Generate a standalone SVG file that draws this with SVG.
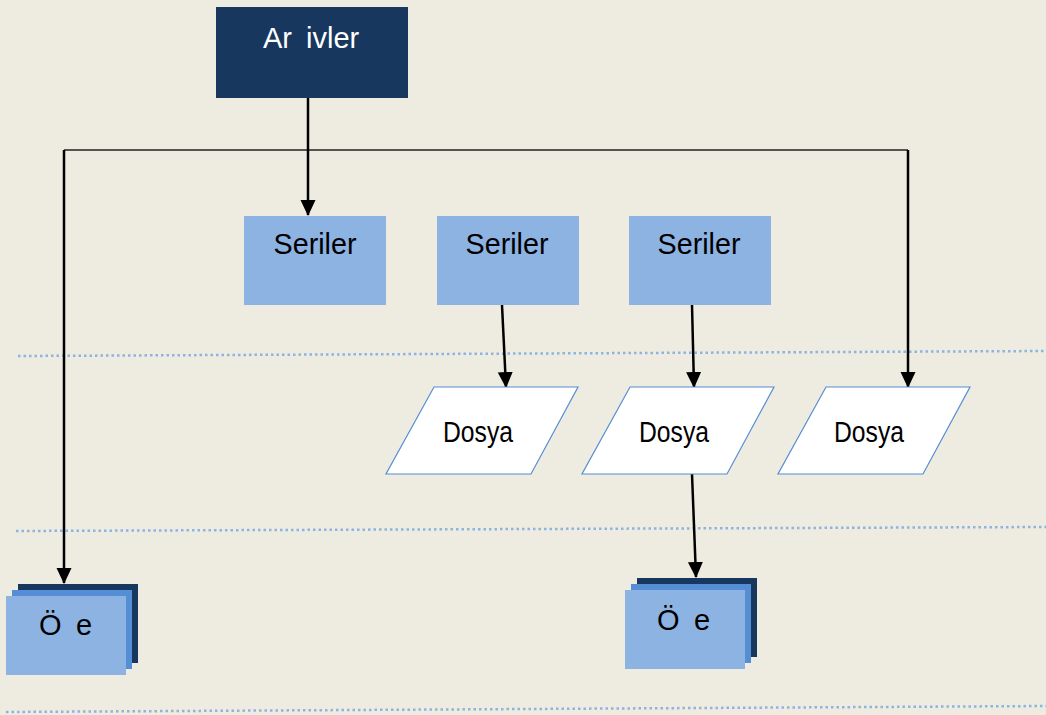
<svg xmlns="http://www.w3.org/2000/svg" width="1046" height="715" viewBox="0 0 1046 715">
<style>
.t{font-family:"Liberation Sans",Arial,sans-serif;font-size:29px;fill:#000}
.c{text-anchor:middle}
.ser{fill:#8DB3E2}
.dos{fill:#fff;stroke:#558ED5;stroke-width:1.2}
.conn{stroke:#000;stroke-width:2.5;fill:none;marker-end:url(#ah)}
.sep{stroke:#8DB3E2;stroke-width:2.5;stroke-dasharray:2.5 3;fill:none}
</style>
<defs>
<marker id="ah" markerUnits="userSpaceOnUse" markerWidth="16" markerHeight="16" viewBox="0 0 16 16" refX="15" refY="8" orient="auto">
<path d="M0,0.5 L16,8 L0,15.5 Z" fill="#000"/>
</marker>
<g id="stack">
<rect x="12" y="-12" width="120" height="79" fill="#17375E"/>
<rect x="6" y="-6" width="120" height="79" fill="#558ED5"/>
<rect x="0" y="0" width="120" height="79" fill="#8DB3E2"/>
</g>
</defs>
<rect width="1046" height="715" fill="#EEEBE0"/>
<g id="separators">
<path class="sep" d="M18,356 L1046,351"/>
<path class="sep" d="M16,531 L1046,527"/>
<path class="sep" d="M6,712 L1046,706"/>
</g>
<g id="connectors">
<path d="M64,150 L908,150" stroke="#222" stroke-width="1.5" fill="none"/>
<path class="conn" d="M308,98 L308,215"/>
<path class="conn" d="M64,150 L64,583"/>
<path class="conn" d="M908,150 L908,387"/>
<path class="conn" d="M502,305 L506,387"/>
<path class="conn" d="M692,305 L694,387"/>
<path class="conn" d="M692,474 L696,577"/>
</g>
<g id="arsivler">
<rect x="216" y="7" width="192" height="91" fill="#17375E"/>
<text class="t" y="48" style="fill:#fff"><tspan x="263">Ar</tspan><tspan x="306">ivler</tspan></text>
</g>
<g id="seriler1">
<rect class="ser" x="244" y="216" width="142" height="89"/>
<text class="t c" x="315" y="254" textLength="83" lengthAdjust="spacingAndGlyphs">Seriler</text>
</g>
<g id="seriler2">
<rect class="ser" x="437" y="216" width="142" height="89"/>
<text class="t c" x="507" y="254" textLength="83" lengthAdjust="spacingAndGlyphs">Seriler</text>
</g>
<g id="seriler3">
<rect class="ser" x="629" y="216" width="142" height="89"/>
<text class="t c" x="699" y="254" textLength="83" lengthAdjust="spacingAndGlyphs">Seriler</text>
</g>
<g id="dosya1">
<path class="dos" d="M434,387 L578,387 L531,474 L386,474 Z"/>
<text class="t c" x="478" y="442" textLength="70" lengthAdjust="spacingAndGlyphs">Dosya</text>
</g>
<g id="dosya2">
<path class="dos" d="M630,387 L774,387 L727,474 L582,474 Z"/>
<text class="t c" x="674" y="442" textLength="70" lengthAdjust="spacingAndGlyphs">Dosya</text>
</g>
<g id="dosya3">
<path class="dos" d="M826,387 L970,387 L923,474 L778,474 Z"/>
<text class="t c" x="869" y="442" textLength="70" lengthAdjust="spacingAndGlyphs">Dosya</text>
</g>
<g id="oge1">
<use href="#stack" x="6" y="596"/>
<text class="t" y="635"><tspan x="39">Ö</tspan><tspan x="76">e</tspan></text>
</g>
<g id="oge2">
<use href="#stack" x="625" y="590"/>
<text class="t" y="630"><tspan x="657">Ö</tspan><tspan x="694">e</tspan></text>
</g>
</svg>
